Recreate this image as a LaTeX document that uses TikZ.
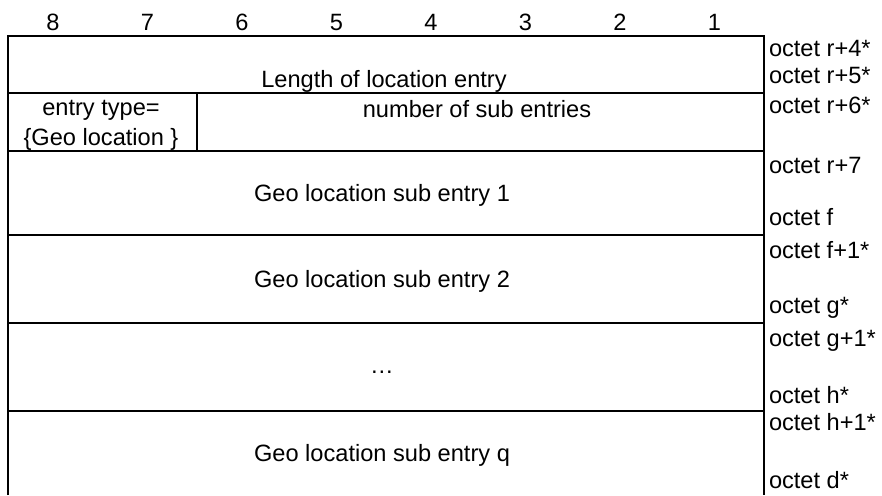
\documentclass[tikz,border=0pt]{standalone}
\usepackage{fontspec}
\setmainfont{Liberation Sans}
\usetikzlibrary{positioning}

\begin{document}
\begin{tikzpicture}[x=0.5pt, y=-0.5pt, line width=1pt,
  font=\fontsize{11.8}{13}\selectfont,
  field/.style={inner sep=0pt, anchor=base},
  octet/.style={inner sep=0pt, anchor=base west}]
  \useasboundingbox (0,0) rectangle (882,495);
  % Bit numbers
  \foreach \b [count=\i from 0] in {8,7,6,5,4,3,2,1}
    \node[field] (bit\b) at (53+94.5*\i,30) {\b};
  % Frame
  \draw (8,495) -- (8,36) -- (764,36) -- (764,495);
  \foreach \y in {93,151,235,323,411}
    \draw (8,\y) -- (764,\y);
  \draw (197,93) -- (197,151);
  % Fields
  \node[field] (len) at (384,87) {Length of location entry};
  \node[field] (type) at (101,115) {entry type=};
  \node[field] (geo) at (101,145.5) {\{Geo location \}};
  \node[field] (num) at (477,117.5) {number of sub entries};
  \node[field] (sub1) at (382,201) {Geo location sub entry 1};
  \node[field] (sub2) at (382,287) {Geo location sub entry 2};
  \node[field] (dots) at (382,373) {…};
  \node[field] (subq) at (382,461) {Geo location sub entry q};
  % Octets
  \foreach \t/\y [count=\i] in {r+4*/56.7, r+5*/83.3, r+6*/113.5, r+7/173,
      f/225, f+1*/258, g*/313, g+1*/346.5, h*/403, h+1*/430, d*/488}
    \node[octet] (oct\i) at (768,\y) {octet \t};
\end{tikzpicture}
\end{document}
